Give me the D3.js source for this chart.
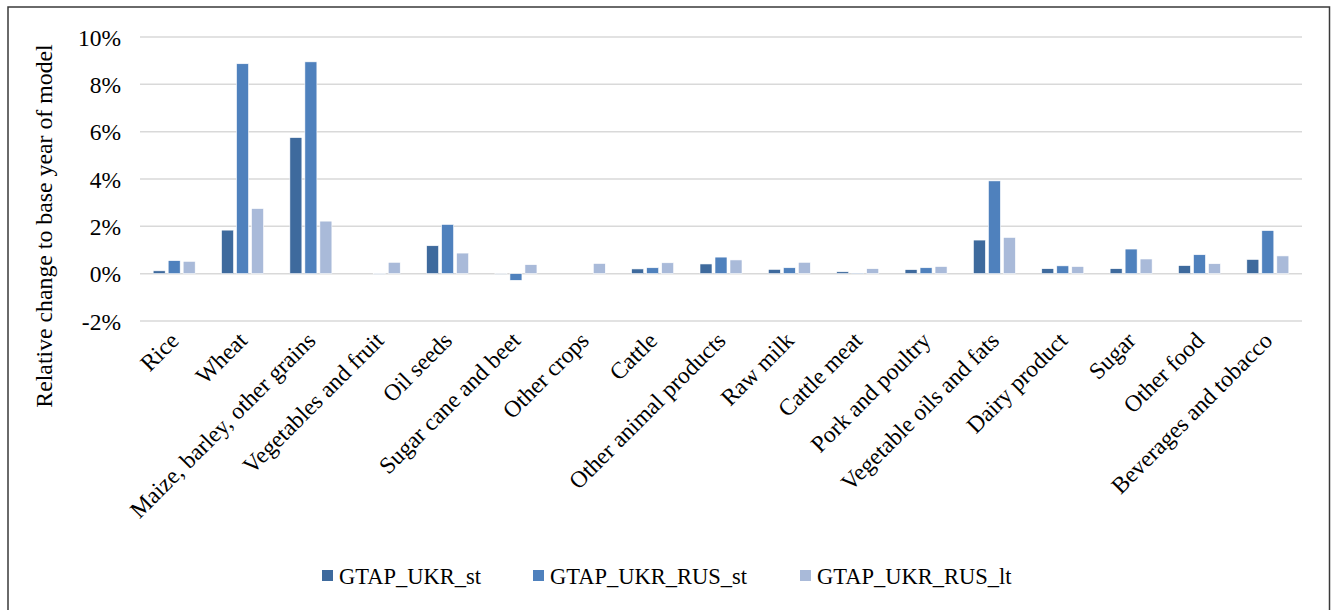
<!DOCTYPE html>
<html><head><meta charset="utf-8">
<script src="https://cdn.jsdelivr.net/npm/d3@7"></script>
<style>body{margin:0;background:#fff}svg{display:block}text{font-family:"Liberation Serif","Times New Roman",serif;fill:#000}</style>
</head><body>
<script>
const categories = ["Rice","Wheat","Maize, barley, other grains","Vegetables and fruit","Oil seeds","Sugar cane and beet","Other crops","Cattle","Other animal products","Raw milk","Cattle meat","Pork and poultry","Vegetable oils and fats","Dairy product","Sugar","Other food","Beverages and tobacco"];
const seriesNames = ["GTAP_UKR_st","GTAP_UKR_RUS_st","GTAP_UKR_RUS_lt"];
const ukrSt    = [0.12,1.84,5.75,0.00,1.18,-0.02,0.00,0.20,0.41,0.18,0.08,0.17,1.42,0.21,0.21,0.34,0.60];
const ukrRusSt = [0.55,8.87,8.95,-0.02,2.08,-0.28,0.00,0.25,0.70,0.25,0.02,0.25,3.92,0.33,1.04,0.80,1.82];
const ukrRusLt = [0.52,2.75,2.22,0.48,0.87,0.38,0.43,0.46,0.58,0.48,0.21,0.30,1.53,0.30,0.62,0.42,0.75];
const yTicks = [-2,0,2,4,6,8,10];
const colors = ["#3e6a9d","#4f81bd","#a9bad9"];

const W=1331,H=610;
const svg=d3.select("body").append("svg").attr("width",W).attr("height",H);
svg.append("rect").attr("x",8).attr("y",7).attr("width",1321.5).attr("height",620)
  .attr("fill","#fff").attr("stroke","#3a3a3a").attr("stroke-width",1.5);

const m={l:140,r:1302,t:37,b:321};
const y=d3.scaleLinear().domain([-2,10]).range([m.b,m.t]);
const x0=d3.scaleBand().domain(categories).range([m.l,m.r]).padding(0);
const bw=x0.bandwidth();
const x1=d3.scaleBand().domain(seriesNames).range([(bw-42)/2,(bw+42)/2]).paddingInner(0.2);

// grid
svg.append("g").selectAll("line").data(yTicks).join("line")
  .attr("x1",m.l).attr("x2",m.r).attr("y1",d=>y(d)).attr("y2",d=>y(d))
  .attr("stroke","#d9d9d9").attr("stroke-width",1.5);

// y axis labels
const yAxis=d3.axisLeft(y).tickValues(yTicks).tickFormat(d=>d+"%").tickSize(0).tickPadding(0);
const ga=svg.append("g").attr("transform",`translate(121,0)`).call(yAxis);
ga.select(".domain").remove();
ga.selectAll("text").attr("font-size",23.5).attr("font-family","Liberation Serif").attr("fill","#000").attr("dy","0.35em");

// bars
const data=[ukrSt,ukrRusSt,ukrRusLt];
seriesNames.forEach((s,si)=>{
  svg.append("g").selectAll("rect").data(categories).join("rect")
    .attr("x",(c)=>x0(c)+x1(s))
    .attr("width",x1.bandwidth())
    .attr("y",(c,i)=>y(Math.max(0,data[si][i])))
    .attr("height",(c,i)=>Math.abs(y(data[si][i])-y(0)))
    .attr("fill",colors[si]).attr("stroke","#fff").attr("stroke-width",0.6);
});

// x labels
svg.append("g").selectAll("text").data(categories).join("text")
  .attr("transform",c=>`translate(${x0(c)+bw/2+6},${342}) rotate(-45)`)
  .attr("text-anchor","end").attr("font-size",23.5).text(c=>c);

// y title
svg.append("text").attr("transform",`translate(52,${226}) rotate(-90)`)
  .attr("text-anchor","middle").attr("font-size",23.8).text("Relative change to base year of model");

// legend
const lx=[322,533,800];
seriesNames.forEach((s,i)=>{
  svg.append("rect").attr("x",lx[i]).attr("y",570).attr("width",11).attr("height",11).attr("fill",colors[i]);
  svg.append("text").attr("x",lx[i]+17).attr("y",584).attr("font-size",22.5).text(s);
});
</script>
</body></html>
